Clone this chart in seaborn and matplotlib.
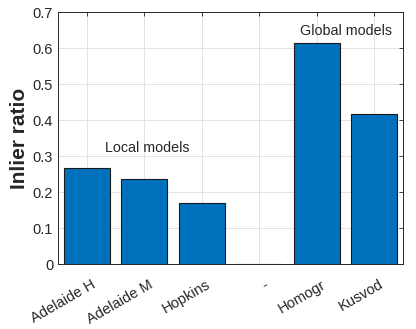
import numpy as np
import pandas as pd
import matplotlib
matplotlib.use("Agg")
import matplotlib.pyplot as plt
import matplotlib.transforms as mtransforms
import seaborn as sns

categories = ["Adelaide H", "Adelaide M", "Hopkins", "-", "Homogr", "Kusvod"]
inlier_ratio = [0.267, 0.235, 0.169, 0.0, 0.614, 0.416]
y_ticks = [0, 0.1, 0.2, 0.3, 0.4, 0.5, 0.6, 0.7]

df = pd.DataFrame({"method": categories, "ratio": inlier_ratio})

sns.set_style("white")
plt.rcParams["font.family"] = ["Liberation Sans", "DejaVu Sans"]

fig = plt.figure(figsize=(4.16, 3.29), dpi=100)
ax = fig.add_axes([58 / 416, 1 - 264 / 329, 345 / 416, 252 / 329])

sns.barplot(data=df, x="method", y="ratio", order=categories, color="#0072BD",
            saturation=1, width=0.8, edgecolor="#1a1a1a", linewidth=0.8, ax=ax)

ax.set_ylim(0, 0.7)
ax.set_xlim(-0.5, len(categories) - 0.5)
ax.set_yticks(y_ticks)
ax.set_yticklabels(["0" if v == 0 else f"{v:.1f}" for v in y_ticks])
ax.set_xticks(range(len(categories)))
ax.set_xlabel("")
ax.set_ylabel("Inlier ratio", fontsize=15, fontweight="bold", labelpad=3)

ax.grid(True, color="#e3e3e3", linewidth=0.7)
ax.set_axisbelow(True)
ax.tick_params(direction="in", length=3, labelsize=10.5, colors="#262626",
               top=True, right=True, width=0.6)
ax.tick_params(axis="x", pad=14)
for s in ax.spines.values():
    s.set_color("#262626")
    s.set_linewidth(0.7)

ax.set_xticklabels(categories, rotation=30, ha="right", va="center",
                   rotation_mode="anchor")
shift = mtransforms.ScaledTranslation(8 / 100, 0, fig.dpi_scale_trans)
for lab in ax.get_xticklabels():
    lab.set_transform(lab.get_transform() + shift)

ax.text(0.32, 0.322, "Local models", fontsize=10.3, va="center", ha="left", color="#262626")
ax.text(3.71, 0.647, "Global models", fontsize=10.3, va="center", ha="left", color="#262626")

fig.savefig("out.png", dpi=100)
